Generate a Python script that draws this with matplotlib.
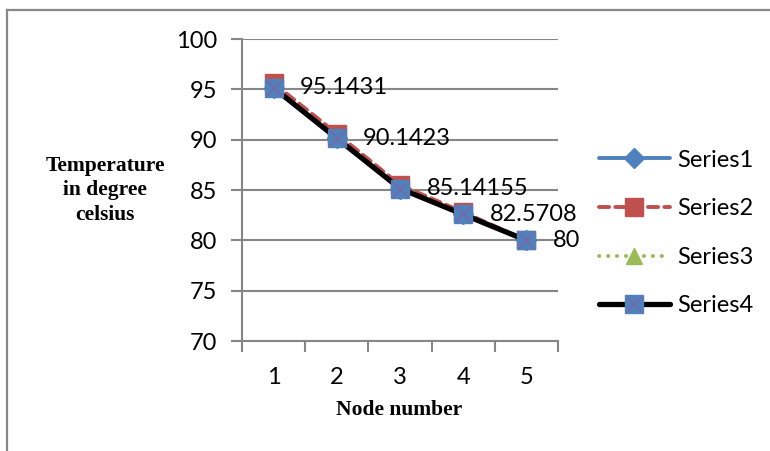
import matplotlib
matplotlib.use("Agg")
import matplotlib.pyplot as plt
from matplotlib.lines import Line2D
from matplotlib.legend_handler import HandlerTuple

nodes = [1, 2, 3, 4, 5]
series1 = [95.1431, 90.1423, 85.14155, 82.5708, 80.0]
series2 = [95.6, 90.6, 85.5, 82.8, 80.0]
series3 = [95.1431, 90.1423, 85.14155, 82.5708, 80.0]
series4 = [95.1431, 90.1423, 85.14155, 82.5708, 80.0]
point_labels = ["95.1431", "90.1423", "85.14155", "82.5708", "80"]
y_ticks = [70, 75, 80, 85, 90, 95, 100]
series_names = ["Series1", "Series2", "Series3", "Series4"]

W, H = 770, 451
fig = plt.figure(figsize=(W / 100, H / 100), dpi=100)
ax = fig.add_axes([242 / W, 1 - 341 / H, (558 - 242) / W, (341 - 39) / H])

GRID = "#868686"
BLUE = "#4F81BD"
RED = "#C0504D"
GREEN = "#9BBB59"
PURPLE = "#8064A2"
TICK_FONT = "Lato"
TITLE_FONT = "Liberation Serif"
FS = 17

ax.set_xlim(0.5, 5.5)
ax.set_ylim(70, 100)
ax.set_yticks(y_ticks)
ax.yaxis.grid(True, color=GRID, linewidth=1.5)
ax.set_axisbelow(True)
for side in ("top", "right"):
    ax.spines[side].set_visible(False)
for side in ("left", "bottom"):
    ax.spines[side].set_color(GRID)
    ax.spines[side].set_linewidth(1.5)

# category axis: tick marks between categories, labels centred on them
ax.set_xticks([0.5, 1.5, 2.5, 3.5, 4.5, 5.5])
ax.set_xticklabels([])
ax.set_xticks(nodes, minor=True)
ax.set_xticklabels([str(n) for n in nodes], minor=True)
ax.tick_params(axis="x", which="major", length=8, width=1.5, color=GRID, direction="out")
ax.tick_params(axis="x", which="minor", length=0, pad=18.5, labelsize=FS)
ax.tick_params(axis="y", length=8, width=1.5, color=GRID, direction="out", pad=10, labelsize=FS)
for lab in ax.get_xticklabels(minor=True) + ax.get_yticklabels():
    lab.set_fontfamily(TICK_FONT)

l1, = ax.plot(nodes, series1, color=BLUE, linewidth=2.8, marker="D", markersize=10,
              markerfacecolor=BLUE, markeredgecolor=BLUE, solid_capstyle="round", zorder=3)
l2, = ax.plot(nodes, series2, color=RED, linewidth=2.8, linestyle=(0, (2.6, 1.6)),
              dash_capstyle="round", marker="s", markersize=13.5,
              markerfacecolor=RED, markeredgecolor=RED, zorder=4)
l3, = ax.plot(nodes, series3, color=GREEN, linewidth=2.8, linestyle=(0, (0.1, 2.2)),
              dash_capstyle="round", marker="^", markersize=12,
              markerfacecolor=GREEN, markeredgecolor=GREEN, zorder=5)
l4, = ax.plot(nodes, series4, color="black", linewidth=3.8, marker="s", markersize=13.5,
              markerfacecolor=BLUE, markeredgecolor=BLUE, solid_capstyle="round", zorder=6)
l4x, = ax.plot(nodes, series4, linestyle="none", marker="x", markersize=11,
               markeredgecolor=PURPLE, markeredgewidth=1.0, zorder=7)

for x, y, txt in zip(nodes, series4, point_labels):
    ax.annotate(txt, (x, y), xytext=(19, 0), textcoords="offset points",
                ha="left", va="center", fontsize=FS, fontfamily=TICK_FONT, zorder=8)

fig.text(105 / W, 1 - 190 / H, "Temperature\nin degree\ncelsius", ha="center", va="center",
         fontsize=15.5, fontweight="bold", fontfamily=TITLE_FONT, linespacing=1.3)
fig.text(399 / W, 1 - 410 / H, "Node number", ha="center", va="center",
         fontsize=15.5, fontweight="bold", fontfamily=TITLE_FONT)

leg = fig.legend([l1, l2, l3, (l4, l4x)], series_names,
                 handler_map={tuple: HandlerTuple(ndivide=1)},
                 loc="center left", bbox_to_anchor=(599 / W, 1 - 233 / H),
                 frameon=False, prop={"family": TICK_FONT, "size": FS},
                 handlelength=3.0, handletextpad=0.3, labelspacing=1.17,
                 borderpad=0, borderaxespad=0)

# chart outline
fig.add_artist(Line2D([7 / W, 1], [1 - 10 / H, 1 - 10 / H], color="#888888", linewidth=1.6,
                      transform=fig.transFigure))
fig.add_artist(Line2D([7 / W, 7 / W], [0, 1 - 10 / H], color="#888888", linewidth=1.6,
                      transform=fig.transFigure))

fig.savefig("out.png", dpi=100)
